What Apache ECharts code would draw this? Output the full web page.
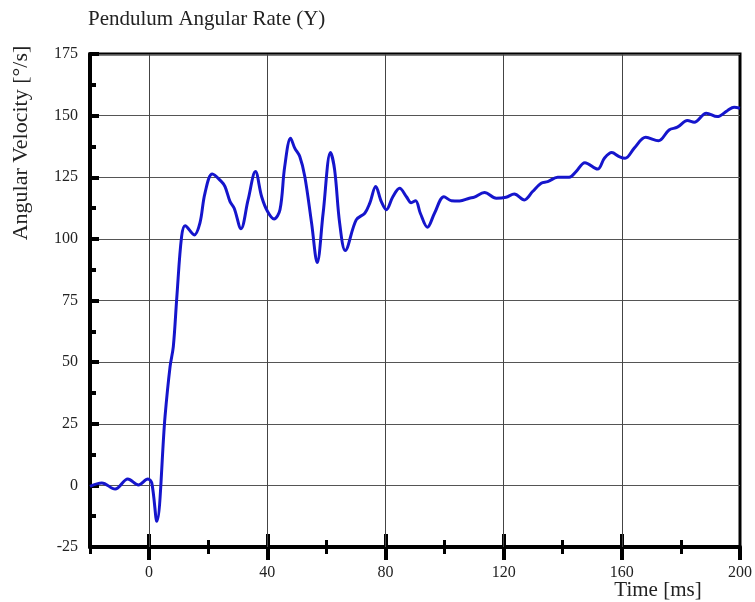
<!DOCTYPE html>
<html>
<head>
<meta charset="utf-8">
<script src="https://cdn.jsdelivr.net/npm/echarts@6/dist/echarts.min.js"></script>
<style>html,body{margin:0;padding:0;background:#fff}#c{width:755px;height:602px}</style>
</head>
<body>
<div id="c"></div>
<script>
const timeMs = [-20, -16, -11.5, -7.2, -3.6, -0.4, 0.9, 2.6, 5.4, 7.1, 8.2, 9.4, 11.0, 12.2, 15.3, 17.2, 18.9, 21.4, 24.5, 25.7, 27.4, 28.8, 31.1, 33.5, 36.0, 38.1, 40.1, 42.3, 44.3, 45.9, 47.9, 49.3, 51, 52.7, 55, 56.9, 58.9, 61.4, 62.8, 64.5, 66.4, 70.1, 73, 74.7, 76.7, 78.6, 80.3, 82.5, 84.8, 87.1, 88.7, 90.2, 91.8, 94.2, 96.6, 99.8, 102.3, 105.1, 108.4, 110.1, 113.5, 117.5, 120.8, 123.6, 127, 129.8, 132.7, 134.9, 138.3, 142.2, 144.5, 147.5, 151.8, 154.1, 156.6, 159.1, 161.1, 164.2, 168.1, 172.4, 176, 178.8, 182.2, 184.5, 188.6, 192.3, 195.7, 198, 200];
const angularVelocity = [-0.4, 1.0, -1.5, 2.6, 0.2, 2.6, 1, -14.6, 28, 48.2, 56.3, 76.6, 100.9, 105.3, 101.6, 106.4, 118.5, 126.3, 123.2, 121.2, 115.1, 112.4, 104.1, 115.8, 127.3, 117.1, 111.1, 108.1, 111.8, 129.3, 140.8, 136.8, 133.4, 125.3, 106.4, 90.4, 110.4, 135, 128, 106.4, 95.3, 107.7, 110.4, 114.5, 121.2, 115.1, 111.8, 117.1, 120.5, 117.1, 114.7, 115.5, 110.4, 104.7, 110.4, 117.1, 115.5, 115.4, 116.5, 116.9, 118.8, 116.5, 116.9, 118.2, 115.8, 119.2, 122.6, 123.2, 125, 125, 127.3, 130.9, 128.3, 132.7, 135, 133.4, 132.7, 136.8, 141.2, 139.8, 144.2, 145.3, 148, 147.3, 151, 149.6, 152, 153.4, 153];
const xLabelTicks = [0, 40, 80, 120, 160, 200];
const xMajorTicks = [0, 40, 80, 120, 160];
const xMinorTicks = [20, 60, 100, 140, 180];
const xGridLines = [0, 40, 80, 120, 160];
const titleText = 'Pendulum Angular Rate (Y)';
const yName = 'Angular Velocity [°/s]';
const xName = 'Time [ms]';

const FONT = 'Liberation Serif';
const chart = echarts.init(document.getElementById('c'));
const baseX = {type: 'value', min: -20, max: 200, interval: 20, position: 'bottom', gridIndex: 0,
  axisLine: {show: false, onZero: false}, axisLabel: {show: false}, splitLine: {show: false}, axisTick: {show: false}};
chart.setOption({
  animation: false,
  backgroundColor: '#fff',
  title: {text: titleText, left: 83, top: 4, textStyle: {fontFamily: FONT, fontSize: 21, fontWeight: 'normal', color: '#222'}},
  grid: {left: 90, top: 54, right: 14, bottom: 55, show: true, borderColor: '#000', borderWidth: 3, backgroundColor: 'transparent'},
  xAxis: [
    Object.assign({}, baseX, {
      axisLine: {show: true, onZero: false, lineStyle: {color: '#000', width: 4}},
      axisTick: {show: true, inside: false, length: 13, customValues: xMajorTicks.concat([200]), lineStyle: {color: '#000', width: 4}},
      axisLabel: {show: true, customValues: xLabelTicks, margin: 18, fontFamily: FONT, fontSize: 16, color: '#222'}
    }),
    Object.assign({}, baseX, {
      axisTick: {show: true, inside: true, length: 13, customValues: xMajorTicks, lineStyle: {color: '#000', width: 4}}
    }),
    Object.assign({}, baseX, {
      axisTick: {show: true, inside: false, length: 7, customValues: xMinorTicks.concat([-20]), lineStyle: {color: '#000', width: 3}}
    }),
    Object.assign({}, baseX, {
      axisTick: {show: true, inside: true, length: 7, customValues: xMinorTicks, lineStyle: {color: '#000', width: 3}}
    })
  ],
  yAxis: {
    type: 'value', min: -25, max: 175, interval: 25,
    axisLine: {show: true, onZero: false, lineStyle: {color: '#000', width: 4}},
    axisTick: {show: true, inside: true, length: 9, lineStyle: {color: '#000', width: 4}},
    minorTick: {show: true, splitNumber: 2, length: 6, lineStyle: {color: '#000', width: 4}},
    axisLabel: {margin: 12, fontFamily: FONT, fontSize: 16, color: '#222'},
    splitLine: {show: true, lineStyle: {color: '#555', width: 1}}
  },
  graphic: [
    {type: 'text', x: 21, y: 143, rotation: Math.PI / 2,
     style: {text: yName, font: '22px "Liberation Serif"', fill: '#222', align: 'center', verticalAlign: 'middle'}},
    {type: 'text', x: 658, y: 590,
     style: {text: xName, font: '21px "Liberation Serif"', fill: '#222', align: 'center', verticalAlign: 'middle'}}
  ],
  series: [
    {type: 'line', data: [], z: 1, silent: true,
     markLine: {silent: true, symbol: 'none', label: {show: false},
       lineStyle: {color: '#444', width: 1, type: 'solid'},
       data: xGridLines.map(v => ({xAxis: v}))}},
    {type: 'line', z: 5, smooth: 0.35, showSymbol: false, symbol: 'none',
     data: timeMs.map((t, i) => [t, angularVelocity[i]]),
     lineStyle: {color: '#1515cc', width: 3}}
  ]
});
</script>
</body>
</html>
